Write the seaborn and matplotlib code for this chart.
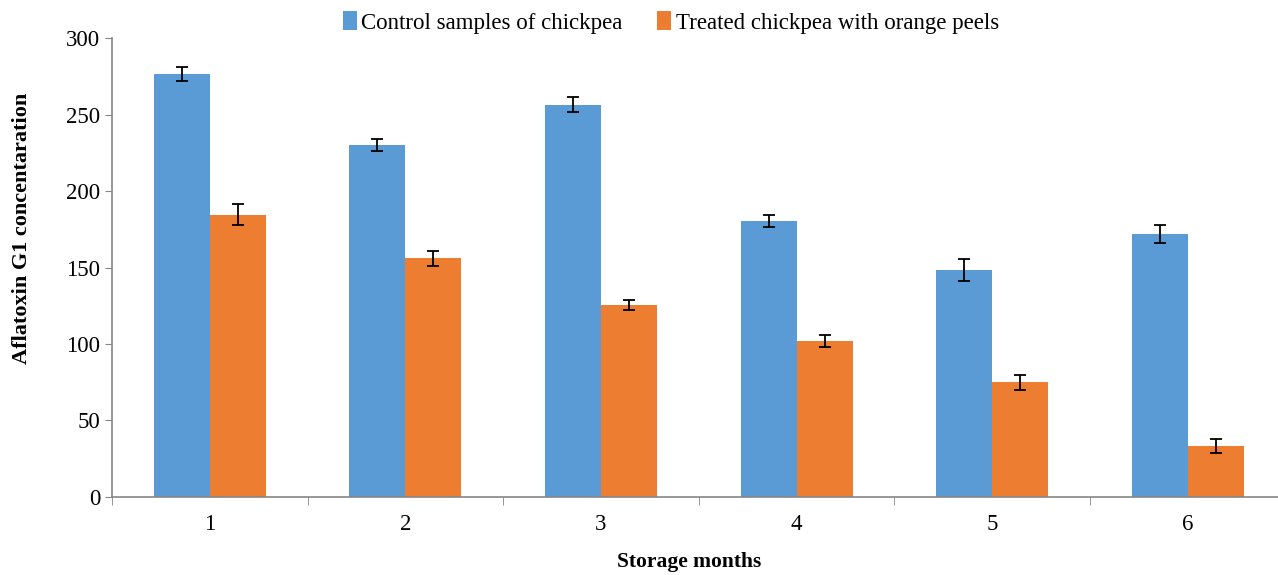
import matplotlib

matplotlib.use('Agg')

import pandas as pd
import matplotlib.pyplot as plt
import seaborn as sns
import numpy as np

months = ['1', '2', '3', '4', '5', '6']
series_names = ['Control samples of chickpea', 'Treated chickpea with orange peels']
control = [276.5, 230, 256.5, 180.5, 148.5, 172]
treated = [184.5, 156, 125.5, 102, 75, 33.5]
control_err = [4.5, 4, 5, 4, 7, 6]
treated_err = [7, 5, 3.5, 4, 5, 4.5]

colors = ['#5B9BD5', '#ED7D31']

df = pd.DataFrame({
    'month': months * 2,
    'value': control + treated,
    'series': [series_names[0]] * 6 + [series_names[1]] * 6,
})

sns.set_style('white')
plt.rcParams['font.family'] = ['Liberation Serif', 'DejaVu Serif']
plt.rcParams['text.color'] = 'black'
plt.rcParams['axes.labelcolor'] = 'black'

fig = plt.figure(figsize=(12.78, 5.75), dpi=100)
ax = fig.add_axes([0.0876, 0.1357, 0.9184, 0.798])

sns.barplot(data=df, x='month', y='value', hue='series', palette=colors,
            width=0.573, saturation=1, errorbar=None, ax=ax, linewidth=0)

# error bars on bar centres
for cont, errs in zip(ax.containers, [control_err, treated_err]):
    xs = [p.get_x() + p.get_width() / 2 for p in cont.patches]
    ys = [p.get_height() for p in cont.patches]
    ax.errorbar(xs, ys, yerr=errs, fmt='none', ecolor='black', elinewidth=1.3,
                capsize=4.5, capthick=1.3)

ax.set_xlim(-0.5, 5.5)
ax.set_ylim(0, 300)
ax.set_yticks(np.arange(0, 301, 50))
ax.tick_params(axis='y', labelsize=16.5, length=5, color='#868686', labelcolor='black',
               direction='out', left=True)
ax.tick_params(axis='x', which='major', labelsize=16.5, length=0, pad=12, labelcolor='black')
ax.set_xticks(np.arange(-0.5, 5.6, 1), minor=True)
ax.tick_params(axis='x', which='minor', length=6, color='#868686', direction='out', bottom=True)

for s in ['top', 'right']:
    ax.spines[s].set_visible(False)
for s in ['left', 'bottom']:
    ax.spines[s].set_color('#868686')
    ax.spines[s].set_linewidth(1.2)

ax.set_ylabel('Aflatoxin G1 concentaration', fontsize=16, fontweight='bold')
ax.yaxis.set_label_coords(-0.068, 0.586)
ax.set_xlabel('Storage months', fontsize=15.5, fontweight='bold')
ax.xaxis.set_label_coords(0.492, -0.12)

ax.legend(loc='upper center', bbox_to_anchor=(0.525, 1.0), bbox_transform=fig.transFigure,
          ncol=2, frameon=False, fontsize=16.5, handlelength=0.6, handleheight=0.9,
          handletextpad=0.2, columnspacing=1.5, borderaxespad=0.1)

fig.savefig('out.png', dpi=100)
